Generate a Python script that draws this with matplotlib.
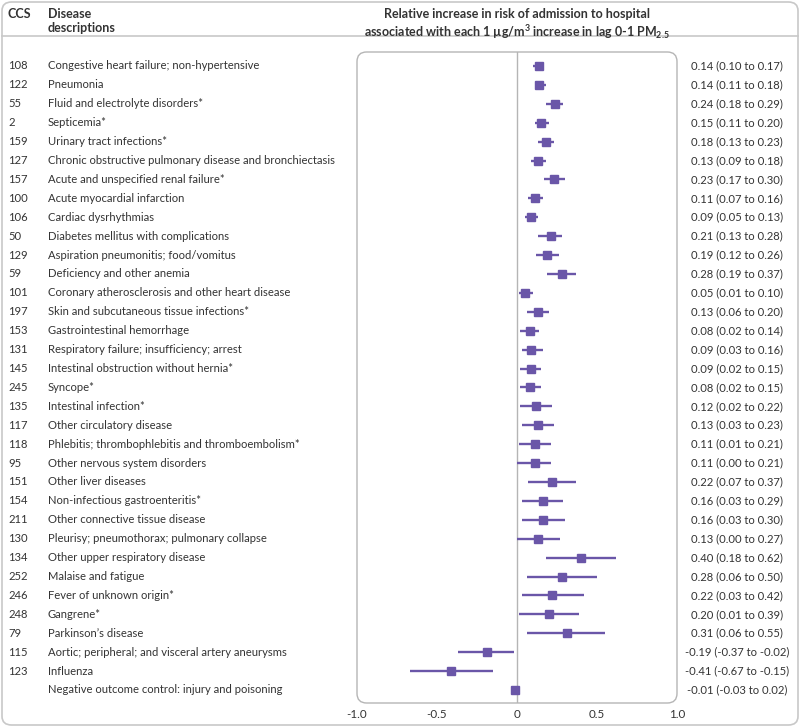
import numpy as np
import matplotlib

matplotlib.use("Agg")
import matplotlib.pyplot as plt
from matplotlib.patches import FancyBboxPatch
import matplotlib.transforms as mtransforms

plt.rcParams["font.family"] = ["Lato", "DejaVu Sans"]
plt.rcParams["mathtext.fontset"] = "custom"
plt.rcParams["mathtext.bf"] = "Lato:bold"
plt.rcParams["mathtext.rm"] = "Lato"

# ---------------------------------------------------------------- data
ccs = ["108", "122", "55", "2", "159", "127", "157", "100", "106", "50", "129",
       "59", "101", "197", "153", "131", "145", "245", "135", "117", "118", "95",
       "151", "154", "211", "130", "134", "252", "246", "248", "79", "115", "123", ""]
diseases = [
    "Congestive heart failure; non-hypertensive",
    "Pneumonia",
    "Fluid and electrolyte disorders*",
    "Septicemia*",
    "Urinary tract infections*",
    "Chronic obstructive pulmonary disease and bronchiectasis",
    "Acute and unspecified renal failure*",
    "Acute myocardial infarction",
    "Cardiac dysrhythmias",
    "Diabetes mellitus with complications",
    "Aspiration pneumonitis; food/vomitus",
    "Deficiency and other anemia",
    "Coronary atherosclerosis and other heart disease",
    "Skin and subcutaneous tissue infections*",
    "Gastrointestinal hemorrhage",
    "Respiratory failure; insufficiency; arrest",
    "Intestinal obstruction without hernia*",
    "Syncope*",
    "Intestinal infection*",
    "Other circulatory disease",
    "Phlebitis; thrombophlebitis and thromboembolism*",
    "Other nervous system disorders",
    "Other liver diseases",
    "Non-infectious gastroenteritis*",
    "Other connective tissue disease",
    "Pleurisy; pneumothorax; pulmonary collapse",
    "Other upper respiratory disease",
    "Malaise and fatigue",
    "Fever of unknown origin*",
    "Gangrene*",
    "Parkinson\u2019s disease",
    "Aortic; peripheral; and visceral artery aneurysms",
    "Influenza",
    "Negative outcome control: injury and poisoning",
]
est = [0.14, 0.14, 0.24, 0.15, 0.18, 0.13, 0.23, 0.11, 0.09, 0.21, 0.19, 0.28,
       0.05, 0.13, 0.08, 0.09, 0.09, 0.08, 0.12, 0.13, 0.11, 0.11, 0.22, 0.16,
       0.16, 0.13, 0.40, 0.28, 0.22, 0.20, 0.31, -0.19, -0.41, -0.01]
lo = [0.10, 0.11, 0.18, 0.11, 0.13, 0.09, 0.17, 0.07, 0.05, 0.13, 0.12, 0.19,
      0.01, 0.06, 0.02, 0.03, 0.02, 0.02, 0.02, 0.03, 0.01, 0.00, 0.07, 0.03,
      0.03, 0.00, 0.18, 0.06, 0.03, 0.01, 0.06, -0.37, -0.67, -0.03]
hi = [0.17, 0.18, 0.29, 0.20, 0.23, 0.18, 0.30, 0.16, 0.13, 0.28, 0.26, 0.37,
      0.10, 0.20, 0.14, 0.16, 0.15, 0.15, 0.22, 0.23, 0.21, 0.21, 0.37, 0.29,
      0.30, 0.27, 0.62, 0.50, 0.42, 0.39, 0.55, -0.02, -0.15, 0.02]
xticks = [-1.0, -0.5, 0, 0.5, 1.0]
xticklabels = ["-1.0", "-0.5", "0", "0.5", "1.0"]

PURPLE = "#6a56a8"
GREY = "#b5b5b5"
TXT = "#333333"
FS = 8.1

W, H = 800, 727
fig = plt.figure(figsize=(W / 100, H / 100), dpi=100)

def fx(px):
    return px / W

def fy(py):
    return 1 - py / H

# outer rounded frame + header rule
fig.patches.append(FancyBboxPatch((fx(2), fy(725)), fx(796), 723 / H,
                                  boxstyle="round,pad=0,rounding_size=0.012",
                                  transform=fig.transFigure, fill=False,
                                  edgecolor="#c8c8c8", lw=1.2))
fig.add_artist(plt.Line2D([fx(2), fx(798)], [fy(36), fy(36)],
                          transform=fig.transFigure, color="#c8c8c8", lw=1.2))

n = len(est)
ax = fig.add_axes([fx(357), fy(703), fx(320), (703 - 52) / H])
ax.set_xlim(-1.0, 1.0)
ax.set_ylim(n - 1 + 0.69, -0.74)
for s in ax.spines.values():
    s.set_visible(False)
ax.patch.set_visible(False)
ax.add_patch(FancyBboxPatch((0, 0), 1, 1, transform=ax.transAxes,
                            boxstyle="round,pad=0,rounding_size=0.03",
                            mutation_aspect=320 / 651,
                            fill=False, edgecolor=GREY, lw=1.0, clip_on=False))
ax.axvline(0, color=GREY, lw=1.0, zorder=1)

y = np.arange(n)
ax.hlines(y, lo, hi, color=PURPLE, lw=1.7, zorder=2)
ax.plot(est, y, "s", color=PURPLE, ms=5.3, zorder=3)

ax.set_xticks(xticks)
ax.set_xticklabels(xticklabels, fontsize=FS + 0.3, color=TXT)
ax.tick_params(axis="x", length=0, pad=4)
ax.set_yticks([])

# left and right text columns
tr = mtransforms.blended_transform_factory(fig.transFigure, ax.transData)
for i in range(n):
    ax.text(fx(8), i, ccs[i], transform=tr, fontsize=FS, color=TXT, va="center")
    ax.text(fx(48), i, diseases[i], transform=tr, fontsize=FS, color=TXT, va="center")
    ax.text(fx(737), i, f"{est[i]:.2f} ({lo[i]:.2f} to {hi[i]:.2f})",
            transform=tr, fontsize=FS, color=TXT, va="center", ha="center")

# header
fig.text(fx(8), fy(8), "CCS", fontsize=9, weight="bold", color=TXT, va="top")
fig.text(fx(48), fy(8), "Disease\ndescriptions", fontsize=9, weight="bold",
         color=TXT, va="top", linespacing=1.15)
fig.text(fx(517), fy(8),
         "Relative increase in risk of admission to hospital\n"
         r"associated with each 1 µg/m$^\mathbf{3}$ increase in lag 0-1 PM$_\mathbf{2.5}$",
         fontsize=9, weight="bold", color=TXT, va="top", ha="center",
         linespacing=1.2)

fig.savefig("out.png", dpi=100)
